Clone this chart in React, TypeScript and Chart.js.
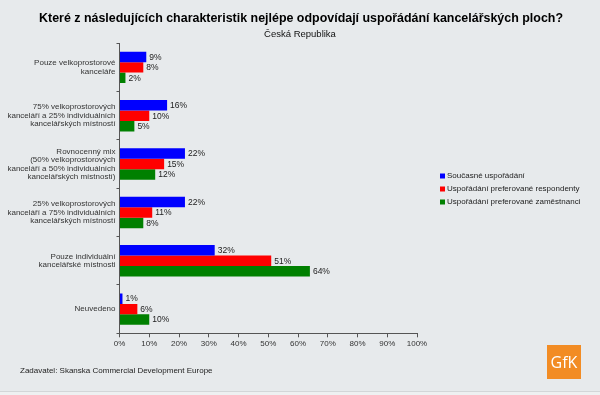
import React, { useEffect, useRef } from "react";
import { Chart, registerables } from "chart.js";

Chart.register(...registerables);

const TITLE = "Které z následujících charakteristik nejlépe odpovídají uspořádání kancelářských ploch?";
const SUBTITLE = "Česká Republika";
const FOOTER = "Zadavatel: Skanska Commercial Development Europe";
const LOGO = "GfK";

const categories: string[][] = [
  ["Pouze velkoprostorové", "kanceláře"],
  ["75% velkoprostorových", "kanceláří a 25% individuálních", "kancelářských místností"],
  ["Rovnocenný mix", "(50% velkoprostorových", "kanceláří a 50% individuálních", "kancelářských místností)"],
  ["25% velkoprostorových", "kanceláří a 75% individuálních", "kancelářských místností"],
  ["Pouze individuální", "kancelářské místnosti"],
  ["Neuvedeno"],
];

const seriesLabels = [
  "Současné uspořádání",
  "Uspořádání preferované respondenty",
  "Uspořádání preferované zaměstnanci",
];
const current = [9, 16, 22, 22, 32, 1];
const respondents = [8, 10, 15, 11, 51, 6];
const employees = [2, 5, 12, 8, 64, 10];
const seriesColors = ["#0000ff", "#ff0000", "#008000"];

const xTickMin = 0;
const xTickMax = 100;
const xTickStep = 10;

const FONT = "'Liberation Sans', Arial, sans-serif";

const extrasPlugin = {
  id: "extras",
  afterDatasetsDraw(chart: any) {
    const ctx = chart.ctx;
    ctx.save();
    ctx.font = `8.5px ${FONT}`;
    ctx.fillStyle = "#222";
    ctx.textBaseline = "middle";
    ctx.textAlign = "left";
    chart.data.datasets.forEach((ds: any, i: number) => {
      const meta = chart.getDatasetMeta(i);
      meta.data.forEach((bar: any, j: number) => {
        ctx.fillText(`${ds.data[j]}%`, bar.x + 3, bar.y + 0.5);
      });
    });
    ctx.restore();
  },
  afterDraw(chart: any) {
    const ctx = chart.ctx;
    ctx.save();
    // title + subtitle
    ctx.textBaseline = "middle";
    ctx.textAlign = "center";
    ctx.fillStyle = "#000";
    ctx.font = `bold 13.5px ${FONT}`;
    ctx.fillText(TITLE, 301, 18, 524);
    ctx.fillStyle = "#111";
    ctx.font = `9.5px ${FONT}`;
    ctx.fillText(SUBTITLE, 300, 34);
    // legend
    ctx.textAlign = "left";
    ctx.font = `8px ${FONT}`;
    chart.data.datasets.forEach((ds: any, i: number) => {
      const y = 176 + 13 * i;
      ctx.fillStyle = ds.backgroundColor;
      ctx.fillRect(440, y - 2.5, 5, 5);
      ctx.fillStyle = "#222";
      ctx.fillText(ds.label, 447, y);
    });
    // footer
    ctx.font = `8px ${FONT}`;
    ctx.fillStyle = "#222";
    ctx.fillText(FOOTER, 20, 371);
    // bottom line
    ctx.fillStyle = "#d3d6d8";
    ctx.fillRect(0, 391, 600, 1);
    ctx.fillStyle = "#eef0f1";
    ctx.fillRect(0, 392, 600, 3);
    // logo
    ctx.fillStyle = "#f28c24";
    ctx.fillRect(547, 345, 34, 34);
    ctx.fillStyle = "#ffffff";
    ctx.font = `16px 'Open Sans', 'Noto Sans', sans-serif`;
    ctx.textAlign = "center";
    ctx.fillText(LOGO, 564, 363);
    ctx.restore();
  },
};

export default function App() {
  const ref = useRef<HTMLCanvasElement | null>(null);
  useEffect(() => {
    if (!ref.current) return;
    const chart = new Chart(ref.current, {
      type: "bar",
      data: {
        labels: categories,
        datasets: [
          { label: seriesLabels[0], data: current, backgroundColor: seriesColors[0] },
          { label: seriesLabels[1], data: respondents, backgroundColor: seriesColors[1] },
          { label: seriesLabels[2], data: employees, backgroundColor: seriesColors[2] },
        ],
      },
      options: {
        indexAxis: "y",
        responsive: false,
        animation: false,
        devicePixelRatio: 1,
        categoryPercentage: 0.65,
        barPercentage: 1.0,
        layout: { padding: { top: 43.2, left: 0, right: 183, bottom: 41.7 } },
        plugins: {
          legend: { display: false },
          tooltip: { enabled: false },
          title: { display: false },
        },
        scales: {
          x: {
            type: "linear",
            min: xTickMin,
            max: xTickMax,
            afterFit: (s: any) => { s.height = 20; },
            ticks: {
              stepSize: xTickStep,
              callback: (v: any) => `${v}%`,
              font: { family: FONT, size: 8 },
              color: "#333",
              padding: 2,
              maxRotation: 0,
            },
            grid: { drawOnChartArea: false, drawTicks: true, tickLength: 4, color: "#555" },
            border: { display: true, color: "#555" },
          },
          y: {
            type: "category",
            offset: true,
            afterFit: (s: any) => { s.width = 119.5; },
            ticks: {
              font: { family: FONT, size: 8, lineHeight: 1.06 },
              color: "#333",
              padding: 1,
            },
            grid: { drawOnChartArea: false, drawTicks: true, tickLength: 3, color: "#555", offset: true },
            border: { display: true, color: "#555" },
          },
        },
      },
      plugins: [extrasPlugin],
    } as any);
    return () => chart.destroy();
  }, []);
  return (
    <div style={{ position: "absolute", left: 0, top: 0, width: 600, height: 395, background: "#e7eaec" }}>
      <canvas ref={ref} width={600} height={395} />
    </div>
  );
}
